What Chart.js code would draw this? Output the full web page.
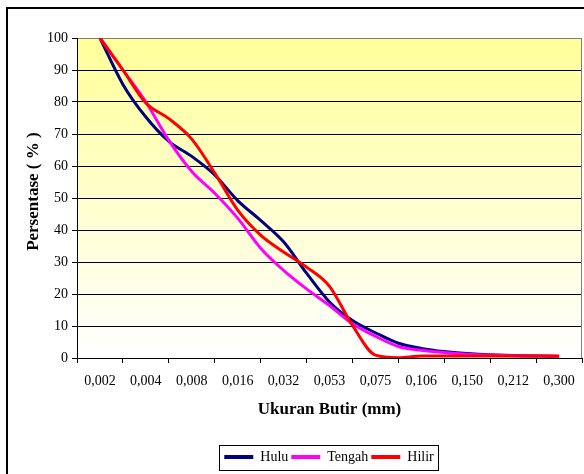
<!DOCTYPE html>
<html>
<head>
<meta charset="utf-8">
<script src="https://cdn.jsdelivr.net/npm/chart.js@4/dist/chart.umd.min.js"></script>
<style>
  html, body { margin: 0; padding: 0; background: #fff; }
  #wrap { width: 584px; height: 474px; }
</style>
</head>
<body>
<div id="wrap"><canvas id="c" width="584" height="474"></canvas></div>
<script>
// Grain size classes (mm) shown on the horizontal axis
const sizeLabels = ['0,002', '0,004', '0,008', '0,016', '0,032', '0,053', '0,075', '0,106', '0,150', '0,212', '0,300'];

// Percent finer, read every half size class (from 0,002 up to 0,300)
const hulu   = [100, 85.5, 75.3, 67.7, 63.0, 57.2, 49.2, 43.0, 36.3, 26.5, 17.5, 11.7, 7.9, 4.6, 3.0, 2.0, 1.4, 1.0, 0.8, 0.6, 0.5];
const tengah = [100, 90.0, 80.0, 68.0, 58.3, 51.5, 43.7, 34.3, 27.4, 21.6, 16.4, 10.7, 6.8, 3.6, 2.4, 1.7, 1.2, 0.9, 0.7, 0.6, 0.5];
const hilir  = [100, 90.0, 79.7, 74.8, 68.4, 57.8, 46.2, 38.4, 33.1, 28.4, 22.4, 10.2, 0.9, 0.1, 0.6, 0.6, 0.6, 0.6, 0.6, 0.6, 0.6];

const seriesNames = ['Hulu', 'Tengah', 'Hilir'];
const seriesColors = ['#000080', '#FF00FF', '#FF0000'];

const toPoints = arr => arr.map((v, i) => ({ x: i / 2, y: v }));

const serif = 'Liberation Serif, "Times New Roman", serif';

// Background of the whole figure plus the outer frame and plot shading
const framePlugin = {
  id: 'frame',
  beforeDraw(chart) {
    const ctx = chart.ctx;
    const a = chart.chartArea;
    ctx.save();
    ctx.fillStyle = '#fff';
    ctx.fillRect(0, 0, chart.width, chart.height);
    ctx.strokeStyle = '#000';
    ctx.lineWidth = 2;
    ctx.beginPath();
    ctx.moveTo(7, chart.height);
    ctx.lineTo(7, 8);
    ctx.lineTo(chart.width, 8);
    ctx.stroke();
    const g = ctx.createLinearGradient(0, a.top, 0, a.bottom);
    g.addColorStop(0, '#FFFF99');
    g.addColorStop(1, '#FFFFFF');
    ctx.fillStyle = g;
    ctx.fillRect(a.left, a.top, a.right - a.left, a.bottom - a.top);
    ctx.restore();
  },
  afterLayout(chart) {
    // move the legend row to sit under the plot centre
    const lg = chart.legend;
    if (lg) { lg.left += 38; lg.right += 38; }
  },
  afterDraw(chart) {
    const ctx = chart.ctx;
    const a = chart.chartArea;
    ctx.save();
    ctx.strokeStyle = '#808080';
    ctx.lineWidth = 1;
    ctx.beginPath();
    ctx.moveTo(Math.round(a.right) - 0.5, a.top);
    ctx.lineTo(Math.round(a.right) - 0.5, a.bottom);
    ctx.stroke();
    const lg = chart.legend;
    if (lg && lg.lineWidths) {
      const pad = 3;
      const start = (lg.left + pad + lg.right - lg.lineWidths[0]) / 2;
      const end = start + lg.lineWidths[0] - pad;
      ctx.strokeStyle = '#000';
      ctx.strokeRect(Math.round(start - 5) + 0.5, Math.round(lg.top - 2) + 0.5,
                     Math.round(end - start + 10), 25);
    }
    ctx.restore();
  }
};

new Chart(document.getElementById('c'), {
  type: 'line',
  data: {
    datasets: seriesNames.map((name, k) => ({
      label: name,
      data: toPoints([hulu, tengah, hilir][k]),
      borderColor: seriesColors[k],
      backgroundColor: seriesColors[k],
      borderWidth: 3,
      pointRadius: 0,
      fill: false,
      cubicInterpolationMode: 'monotone',
      order: 2 - k
    }))
  },
  options: {
    responsive: false,
    animation: false,
    devicePixelRatio: 1,
    layout: { padding: { top: 38, right: 2, left: 0, bottom: 0 } },
    plugins: {
      tooltip: { enabled: false },
      legend: {
        position: 'bottom',
        labels: {
          color: '#000',
          font: { family: serif, size: 14 },
          boxWidth: 29,
          boxHeight: 4,
          padding: 3,
          sort: (a, b) => a.datasetIndex - b.datasetIndex,
          generateLabels(chart) {
            return Chart.defaults.plugins.legend.labels.generateLabels(chart).map(l => {
              l.fillStyle = seriesColors[l.datasetIndex];
              l.lineWidth = 0;
              return l;
            });
          }
        }
      }
    },
    scales: {
      x: {
        type: 'linear',
        min: -0.5,
        max: 10.5,
        afterFit(scale) { scale.height = 89; },
        border: { color: '#000', width: 1 },
        grid: {
          drawOnChartArea: false,
          drawTicks: true,
          tickLength: 5,
          color: ctx => (ctx.tick && Number.isInteger(ctx.tick.value)) ? 'rgba(0,0,0,0)' : '#000'
        },
        ticks: {
          stepSize: 0.5,
          autoSkip: false,
          maxRotation: 0,
          minRotation: 0,
          padding: 0,
          color: '#000',
          font: { family: serif, size: 14, lineHeight: '36px' },
          callback: v => Number.isInteger(v) && v >= 0 && v < sizeLabels.length ? sizeLabels[v] : ''
        },
        title: {
          display: true,
          text: 'Ukuran Butir (mm)',
          color: '#000',
          font: { family: serif, size: 17, weight: 'bold' },
          padding: { top: 0, bottom: 27 }
        }
      },
      y: {
        min: 0,
        max: 100,
        afterFit(scale) { scale.width = 77; },
        border: { color: '#000', width: 1 },
        grid: {
          tickLength: 5,
          color: ctx => (ctx.tick && ctx.tick.value === 100) ? '#808080' : '#000',
          tickColor: '#000'
        },
        ticks: {
          stepSize: 10,
          padding: 4,
          color: '#000',
          font: { family: serif, size: 14 }
        },
        title: {
          display: true,
          text: '   Persentase ( % )',
          color: '#000',
          font: { family: serif, size: 17, weight: 'bold' },
          padding: { top: 23, bottom: 0 }
        }
      }
    }
  },
  plugins: [framePlugin]
});
</script>
</body>
</html>
